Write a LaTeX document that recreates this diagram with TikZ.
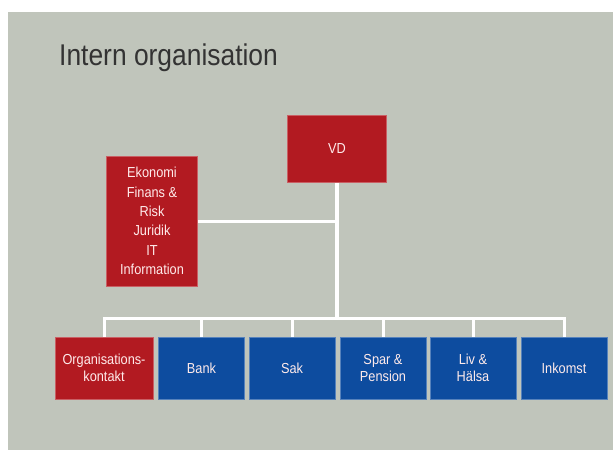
\documentclass[tikz,border=0pt]{standalone}
\usepackage{fontspec}
\setmainfont{Liberation Sans}
\newfontfamily\narrowfont[FakeStretch=0.88]{Liberation Sans}
\usepackage{xcolor}
\usetikzlibrary{calc}
\definecolor{bggray}{HTML}{C0C5BB}
\definecolor{boxred}{HTML}{B21A21}
\definecolor{boxblue}{HTML}{0D4C9F}

\begin{document}
\begin{tikzpicture}[x=1pt,y=-1pt]

	\useasboundingbox (0,0) rectangle (613,450);
	\fill[bggray] (8,12) rectangle (613,450);

	\node[anchor=base west, inner sep=0pt, text=black!80, font=\narrowfont\fontsize{30}{34}\selectfont] (title) at (59,65) {Intern organisation};

	\begin{scope}[every node/.style={rectangle, inner sep=0pt, align=center, text=white!92!red, fill=boxred, draw=boxred!70!white, line width=0.6pt, minimum height=62, font=\narrowfont\fontsize{14.5}{16.7}\selectfont}]
		\node[minimum width=99, minimum height=67] (vd) at (337,149) {VD};
		\node[minimum width=91, minimum height=130, font=\narrowfont\fontsize{14.5}{19.3}\selectfont] (stab) at (152,221) {Ekonomi\\Finans \&\\Risk\\Juridik\\IT\\Information};
		\node[minimum width=98] (org) at (104,368) {Organisations-\\kontakt};

		\foreach \n/\x/\t in {bank/201.5/Bank, sak/292/Sak, spar/383/{Spar \&\\Pension}, liv/473/{Liv \&\\Hälsa}, ink/564/Inkomst}
		{
			\node[minimum width=86, fill=boxblue, draw=boxblue!70!white] (\n) at (\x,368) {\t};
		}
	\end{scope}

	\begin{scope}[white, line width=3pt]
		\coordinate (bus) at (0,318);
		\draw[line width=4pt] (vd.south) -- (vd.south |- bus);
		\draw (stab.east) -- (stab.east -| vd.south);
		\draw (org.north) -- (bus -| org) -- (bus -| ink) -- (ink.north);
		\foreach \n in {bank,sak,spar,liv}
			\draw (bus -| \n) -- (\n.north);
	\end{scope}

\end{tikzpicture}
\end{document}
